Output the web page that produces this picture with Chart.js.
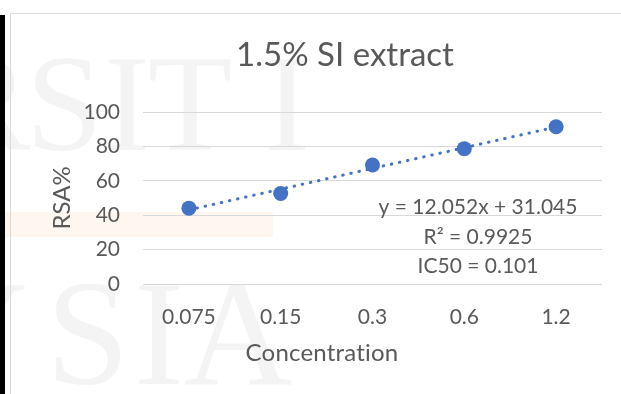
<!DOCTYPE html>
<html>
<head>
<meta charset="utf-8">
<script src="https://cdn.jsdelivr.net/npm/chart.js@4/dist/chart.umd.min.js"></script>
<style>
  html, body { margin: 0; padding: 0; background: #fff; overflow: hidden; }
  canvas { display: block; }
</style>
</head>
<body>
<canvas id="chart" width="621" height="394"></canvas>
<script>
// Data
const categories = ['0.075', '0.15', '0.3', '0.6', '1.2'];
const rsaValues = [44.1, 52.6, 69.2, 78.7, 91.4];
const yTickValues = [0, 20, 40, 60, 80, 100];

// Linear trendline stated on the chart (x = category position 1..n)
const trendSlope = 12.052;
const trendIntercept = 31.045;
const rSquaredText = '0.9925';
const ic50Text = '0.101';
const trendValues = categories.map((_, i) => trendSlope * (i + 1) + trendIntercept);

const textColor = '#595959';
const gridColor = '#d9d9d9';
const markColor = '#4472C4';
const fontFamily = 'Lato, "Open Sans", sans-serif';

// Page decoration, titles and the trendline label
const decorPlugin = {
  id: 'decor',
  beforeDraw(chart) {
    const ctx = chart.ctx;
    ctx.save();
    ctx.fillStyle = '#ffffff';
    ctx.fillRect(0, 0, chart.width, chart.height);

    // faint background lettering
    ctx.fillStyle = '#f4f4f4';
    ctx.textBaseline = 'alphabetic';
    ctx.textAlign = 'left';
    ctx.font = '138px "Liberation Serif", serif';
    [['R', -62, 150], ['S', 26, 150], ['I', 104, 150], ['T', 148, 150], ['I', 264, 150]]
      .forEach(([ch, x, y]) => ctx.fillText(ch, x, y));
    ctx.font = '150px "Liberation Serif", serif';
    [['Y', -80, 384], ['S', 46, 384], ['I', 134, 384], ['A', 184, 384]]
      .forEach(([ch, x, y]) => ctx.fillText(ch, x, y));

    // pale band
    ctx.fillStyle = '#fef6ef';
    ctx.fillRect(0, 212, 273, 25);

    // outer frame
    ctx.strokeStyle = gridColor;
    ctx.lineWidth = 1;
    ctx.beginPath();
    ctx.moveTo(10.5, chart.height);
    ctx.lineTo(10.5, 13.5);
    ctx.lineTo(chart.width, 13.5);
    ctx.stroke();

    // dark left edge
    ctx.fillStyle = '#000000';
    ctx.fillRect(0, 15, 5, chart.height - 15);
    ctx.restore();
  },
  afterDraw(chart) {
    const ctx = chart.ctx;
    ctx.save();
    ctx.fillStyle = textColor;
    ctx.textAlign = 'center';
    ctx.textBaseline = 'middle';

    ctx.font = '33px ' + fontFamily;
    ctx.fillText('1.5% SI extract', 345, 55);

    ctx.font = '24px ' + fontFamily;
    if ('letterSpacing' in ctx) ctx.letterSpacing = '0.2px';
    ctx.fillText('Concentration', 322, 353);
    if ('letterSpacing' in ctx) ctx.letterSpacing = '0px';

    ctx.font = '21px ' + fontFamily;
    ctx.fillText('y = ' + trendSlope.toFixed(3) + 'x + ' + trendIntercept.toFixed(3), 478, 207);
    ctx.fillText('R\u00B2 = ' + rSquaredText, 478, 237);
    ctx.fillText('IC50 = ' + ic50Text, 478, 266);
    ctx.restore();
  }
};

new Chart(document.getElementById('chart'), {
  type: 'line',
  data: {
    labels: categories,
    datasets: [
      {
        label: 'Linear (RSA%)',
        data: trendValues,
        borderColor: markColor,
        borderWidth: 3,
        borderDash: [0.5, 7.8],
        borderCapStyle: 'round',
        pointRadius: 0,
        fill: false,
        tension: 0
      },
      {
        label: 'RSA%',
        data: rsaValues,
        showLine: false,
        pointRadius: 7.5,
        pointBackgroundColor: markColor,
        pointBorderColor: markColor,
        pointBorderWidth: 0
      }
    ]
  },
  options: {
    responsive: false,
    animation: false,
    devicePixelRatio: 1,
    layout: { padding: { top: 112, right: 19, bottom: 0, left: 0 } },
    plugins: {
      legend: { display: false },
      title: { display: false },
      tooltip: { enabled: false }
    },
    scales: {
      x: {
        type: 'category',
        offset: true,
        grid: { display: false },
        border: { display: false },
        ticks: {
          padding: 13,
          color: textColor,
          font: { family: fontFamily, size: 21 }
        },
        afterFit(scale) { scale.height = 110; }
      },
      y: {
        min: 0,
        max: 100,
        afterBuildTicks(scale) { scale.ticks = yTickValues.map(v => ({ value: v })); },
        grid: { color: gridColor, lineWidth: 1, drawTicks: false },
        border: { display: false },
        ticks: {
          padding: 23,
          color: textColor,
          font: { family: fontFamily, size: 21 }
        },
        title: {
          display: true,
          text: 'RSA%',
          color: textColor,
          font: { family: fontFamily, size: 24 },
          padding: { top: 48, bottom: 0 }
        },
        afterFit(scale) { scale.width = 143; }
      }
    }
  },
  plugins: [decorPlugin]
});
</script>
</body>
</html>
